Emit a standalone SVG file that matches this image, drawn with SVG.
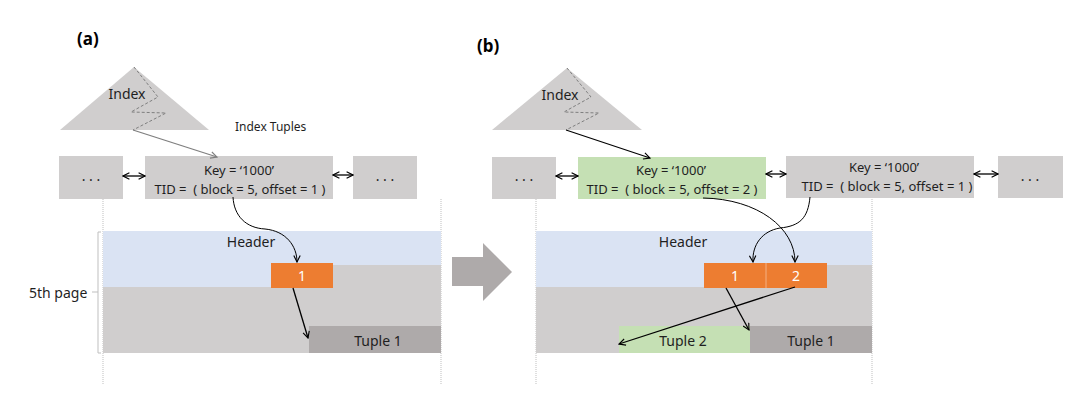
<svg xmlns="http://www.w3.org/2000/svg" width="1080" height="402" viewBox="0 0 1080 402">
<style>
text{font-family:"Noto Sans","Noto Sans CJK SC",sans-serif;font-size:14px;fill:#1F1F1F}
.c{text-anchor:middle}
.t13{font-size:13px}
.lbl{font-weight:bold;font-size:17px;fill:#000}
.w{fill:#fff}
.box{fill:#D0CECE}
.grn{fill:#C5E0B4}
.blu{fill:#DAE3F3}
.org{fill:#ED7D31}
.dk{fill:#AEAAAA}
.tri{fill:#D0CECE}
.dash{fill:none;stroke:#7F7F7F;stroke-width:1;stroke-dasharray:3 2}
.vdot{stroke:#BFBFBF;stroke-width:1;stroke-dasharray:1 1}
.ln{fill:none;stroke:#000;stroke-width:1.3}
.cv{fill:none;stroke:#000;stroke-width:1}
.gl{fill:none;stroke:#7F7F7F;stroke-width:1.3}
</style>
<defs>
<marker id="ah" viewBox="0 0 10 10" refX="9" refY="5" markerWidth="8" markerHeight="8" markerUnits="userSpaceOnUse" orient="auto-start-reverse"><path d="M1,1 L9,5 L1,9" fill="none" stroke="#000" stroke-width="1.4"/></marker>
<marker id="ahg" viewBox="0 0 10 10" refX="9" refY="5" markerWidth="8" markerHeight="8" markerUnits="userSpaceOnUse" orient="auto"><path d="M1,1 L9,5 L1,9" fill="none" stroke="#7F7F7F" stroke-width="1.4"/></marker>
</defs>

<!-- panel (a) -->
<text class="lbl" x="77" y="45">(a)</text>
<g id="a-index">
<polygon class="tri" points="134,67 60,130 209,130"/>
<polyline class="dash" points="134,67 158,97 131,112 166,113 133,130"/>
<text class="c" x="127" y="99">Index</text>
</g>
<text id="a-index-tuples" x="235" y="131" style="font-size:12px">Index Tuples</text>
<g id="a-prev"><rect class="box" x="59" y="156" width="64" height="43"/><text class="c" x="91" y="181">. . .</text></g>
<g id="a-tuple"><rect class="box" x="145" y="156" width="188" height="43"/>
<text class="c t13" x="239" y="175">Key = ‘1000’</text>
<text class="c t13" x="240" y="193.5">TID = &#160;( block = 5, offset = 1 )</text></g>
<g id="a-next"><rect class="box" x="353" y="156" width="64" height="43"/><text class="c" x="385" y="181">. . .</text></g>
<g id="a-page">
<line class="vdot" x1="103" y1="199" x2="103" y2="385"/>
<line class="vdot" x1="441" y1="199" x2="441" y2="385"/>
<rect class="blu" x="103" y="231" width="338" height="56"/>
<rect class="box" x="333" y="265" width="108" height="22"/>
<rect class="box" x="103" y="287" width="338" height="66"/>
<text class="c" x="251" y="247">Header</text>
<path d="M101,232 H98 V353 H101 M92,292 H98" fill="none" stroke="#BFBFBF" stroke-width="1"/>
<text x="29" y="298">5th page</text>
</g>
<g id="a-lp1"><rect class="org" x="271" y="263" width="62" height="25"/><text class="c w" x="302" y="281">1</text></g>
<g id="a-tuple1"><rect class="dk" x="309" y="326" width="132" height="27"/><text class="c" x="378" y="346">Tuple 1</text></g>

<!-- transition arrow -->
<polygon id="step-arrow" class="dk" points="452,257 483,257 483,243 512,272 483,301 483,286 452,286"/>

<!-- panel (b) -->
<text class="lbl" x="477" y="52">(b)</text>
<g id="b-index">
<polygon class="tri" points="567,68 492,130 642,130"/>
<polyline class="dash" points="567,68 591,97 564,112 599,113 566,130"/>
<text class="c" x="560" y="99.5">Index</text>
</g>
<g id="b-prev"><rect class="box" x="492" y="157" width="64" height="42"/><text class="c" x="524" y="181">. . .</text></g>
<g id="b-tuple-new"><rect class="grn" x="578" y="157" width="188" height="42"/>
<text class="c t13" x="671" y="175">Key = ‘1000’</text>
<text class="c t13" x="672" y="193.5">TID = &#160;( block = 5, offset = 2 )</text></g>
<g id="b-tuple-old"><rect class="box" x="786" y="156" width="188" height="42"/>
<text class="c t13" x="884" y="172">Key = ‘1000’</text>
<text class="c t13" x="887" y="190.5">TID = &#160;( block = 5, offset = 1 )</text></g>
<g id="b-next"><rect class="box" x="998" y="156" width="65" height="42"/><text class="c" x="1030" y="181">. . .</text></g>
<g id="b-page">
<line class="vdot" x1="536" y1="199" x2="536" y2="385"/>
<line class="vdot" x1="872" y1="199" x2="872" y2="385"/>
<rect class="blu" x="536" y="231" width="336" height="56"/>
<rect class="box" x="827" y="265" width="45" height="22"/>
<rect class="box" x="536" y="287" width="336" height="66"/>
<text class="c" x="683" y="247">Header</text>
</g>
<g id="b-lp1"><rect class="org" x="704" y="263" width="62" height="25"/><text class="c w" x="735" y="281">1</text></g>
<g id="b-lp2"><rect class="org" x="766" y="263" width="61" height="25"/><text class="c w" x="796" y="281">2</text></g>
<line x1="766" y1="263" x2="766" y2="288" stroke="#F4B183" stroke-width="1"/>
<g id="b-tuple2"><rect class="grn" x="619" y="326" width="131" height="27"/><text class="c" x="683" y="346">Tuple 2</text></g>
<g id="b-tuple1"><rect class="dk" x="750" y="326" width="122" height="27"/><text class="c" x="811" y="346">Tuple 1</text></g>

<g id="connectors">
<line class="gl" x1="133" y1="130" x2="217" y2="157" marker-end="url(#ahg)"/>
<line class="ln" x1="123" y1="176" x2="145" y2="176" marker-start="url(#ah)" marker-end="url(#ah)"/>
<line class="ln" x1="333" y1="175" x2="353" y2="175" marker-start="url(#ah)" marker-end="url(#ah)"/>
<path class="cv" d="M233,197 C234,216 246,228 265,229 C286,231 297,246 297,262" marker-end="url(#ah)"/>
<line class="ln" x1="293" y1="288" x2="308" y2="338" marker-end="url(#ah)"/>

<line class="ln" x1="566" y1="130" x2="650" y2="158" marker-end="url(#ah)"/>
<line class="ln" x1="556" y1="176" x2="578" y2="176" marker-start="url(#ah)" marker-end="url(#ah)"/>
<line class="ln" x1="766" y1="174" x2="786" y2="174" marker-start="url(#ah)" marker-end="url(#ah)"/>
<line class="ln" x1="974" y1="174" x2="998" y2="174" marker-start="url(#ah)" marker-end="url(#ah)"/>
<path class="cv" d="M703,198 C758,199 795,228 795,262" marker-end="url(#ah)"/>
<path class="cv" d="M810,197 C808,218 800,226 780,228 C762,231 752,245 753,262" marker-end="url(#ah)"/>
<line class="ln" x1="726" y1="288" x2="749" y2="330" marker-end="url(#ah)"/>
<line class="ln" x1="795" y1="287" x2="619" y2="344" marker-end="url(#ah)"/>
</g>
</svg>
